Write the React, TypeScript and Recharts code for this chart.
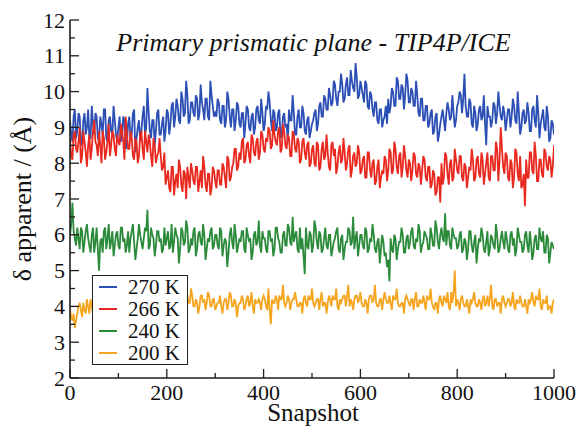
import * as React from "react";
import { LineChart, Line, XAxis, YAxis } from "recharts";

const snapshots = Array.from({ length: 201 }, (_, i) => i * 5);
const midSnapshots = Array.from({ length: 200 }, (_, i) => i * 5 + 2.5);

const k270 = [
  9.2, 8.6, 9.5, 8.9, 9.3, 8.5, 9.4, 9.0, 8.7, 9.6, 8.8, 9.3, 8.6, 9.1, 9.5, 8.7, 9.2, 8.9, 9.6, 8.8, 9.0,
  8.6, 9.3, 8.4, 9.1, 8.7, 9.4, 8.3, 9.0, 8.6, 9.3, 8.8, 10.1, 8.9, 9.2, 8.5, 9.4, 8.8, 9.1, 8.6, 9.5,
  8.8, 9.6, 9.0, 9.8, 9.2, 10.0, 9.3, 10.3, 9.1, 9.7, 9.4, 9.9, 9.2, 10.2, 9.5, 9.8, 9.3, 10.3, 9.6, 9.4,
  9.8, 9.2, 9.6, 9.0, 10.0, 9.3, 9.5, 8.9, 9.7, 9.1, 9.4, 8.7, 9.6, 9.0, 9.3, 8.8, 9.5, 9.2, 9.8, 8.9,
  9.6, 10.0, 9.2, 9.5, 8.9, 9.4, 8.7, 9.3, 9.0, 8.6, 9.2, 9.9, 8.8, 9.3, 9.0, 9.6, 8.9, 9.2, 8.7, 9.1,
  9.4, 8.9, 9.6, 9.3, 9.9, 9.5, 10.1, 9.6, 10.3, 9.8, 10.0, 10.5, 9.7, 10.2, 9.9, 10.6, 10.1, 10.8, 9.8, 10.3,
  9.9, 10.3, 9.6, 10.0, 9.5, 9.7, 9.2, 9.5, 9.0, 9.3, 9.1, 9.4, 10.1, 9.6, 10.4, 9.8, 10.2, 9.5, 10.5, 9.7,
  10.1, 9.6, 10.3, 9.4, 9.8, 9.2, 9.6, 9.0, 9.4, 8.8, 9.3, 8.6, 9.1, 9.5, 8.9, 9.7, 9.2, 9.9, 9.0, 9.6,
  10.0, 9.4, 10.5, 9.3, 9.8, 9.1, 9.6, 8.9, 9.5, 9.2, 9.9, 8.5, 9.3, 9.0, 9.7, 9.1, 10.0, 9.3, 9.6, 8.9,
  9.5, 9.0, 9.8, 9.2, 10.0, 8.8, 9.4, 9.1, 9.7, 8.9, 9.5, 9.2, 9.9, 8.7, 9.3, 9.0, 9.6, 8.6, 9.2, 8.8,
];
const k270mid = [
  8.8, 9.3, 8.7, 9.4, 8.6, 9.2, 8.8, 9.5, 8.7, 9.1, 9.4, 8.7, 9.3, 8.8, 9.5, 8.6, 9.3, 8.8, 9.2, 8.6,
  9.3, 8.7, 9.2, 8.5, 9.3, 8.8, 9.5, 8.7, 9.2, 8.9, 9.6, 9.0, 9.4, 8.7, 9.2, 8.9, 9.5, 8.8, 9.3, 8.9,
  9.4, 9.1, 9.7, 9.3, 9.6, 9.1, 9.8, 9.4, 9.9, 9.2, 9.7, 9.3, 9.8, 9.4, 9.7, 9.2, 9.8, 9.2, 9.9, 9.3,
  9.3, 9.7, 9.1, 9.6, 9.2, 9.8, 9.0, 9.5, 9.2, 9.6, 9.0, 9.4, 9.1, 9.5, 8.9, 9.4, 9.0, 9.6, 9.1, 9.4,
  9.1, 9.5, 9.7, 8.9, 9.4, 9.0, 9.5, 8.8, 9.4, 9.1, 9.5, 9.2, 9.4, 8.8, 9.5, 9.0, 9.4, 8.8, 9.3, 8.9,
  9.2, 9.5, 9.1, 9.7, 9.3, 9.8, 9.5, 9.9, 9.7, 10.2, 9.6, 10.0, 10.2, 9.8, 10.4, 9.9, 10.3, 10.0, 10.4, 9.9,
  10.1, 9.7, 10.2, 9.5, 9.9, 9.3, 9.7, 9.1, 9.5, 9.2, 9.6, 9.8, 9.6, 10.0, 9.6, 10.3, 9.8, 10.1, 9.9, 10.3,
  9.7, 10.0, 9.6, 9.9, 9.3, 9.8, 9.2, 9.6, 9.1, 9.5, 8.9, 9.4, 8.8, 9.3, 9.2, 9.4, 9.5, 9.3, 9.4, 9.2,
  9.7, 9.9, 9.8, 9.6, 9.3, 9.7, 9.0, 9.4, 9.1, 9.6, 9.3, 9.1, 9.6, 9.3, 9.2, 9.6, 9.4, 9.6, 9.2, 9.4,
  9.2, 9.5, 9.3, 9.6, 9.1, 9.4, 9.0, 9.5, 9.2, 9.4, 8.9, 9.6, 9.0, 9.4, 9.1, 9.5, 8.9, 9.3, 8.7, 9.1,
];

const k266 = [
  8.7, 8.1, 8.9, 8.3, 9.0, 8.2, 8.6, 7.9, 8.8, 8.4, 9.2, 8.5, 8.9, 8.0, 8.7, 8.3, 9.1, 8.5, 8.8, 8.2, 8.6,
  9.1, 8.6, 9.3, 8.4, 8.9, 8.2, 8.7, 8.0, 8.8, 8.4, 8.9, 8.3, 8.6, 7.9, 8.5, 8.2, 8.7, 7.8, 8.3, 7.6,
  7.3, 7.9, 7.1, 7.7, 8.1, 7.4, 7.8, 7.0, 7.6, 8.0, 7.5, 7.9, 7.2, 7.8, 8.2, 7.4, 7.7, 7.1, 7.9, 7.5,
  7.8, 7.4, 8.0, 7.6, 8.2, 7.5, 7.9, 8.4, 7.8, 8.3, 8.6, 8.0, 8.5, 8.2, 8.8, 8.3, 8.6, 8.1, 8.9, 8.4,
  8.7, 9.0, 8.4, 9.2, 8.6, 8.9, 8.3, 9.1, 8.5, 8.8, 8.2, 8.9, 8.4, 8.7, 8.0, 8.6, 8.3, 8.5, 7.9, 8.4,
  8.0, 8.6, 7.8, 8.4, 8.1, 8.8, 7.9, 8.5, 8.2, 7.7, 8.3, 8.0, 8.7, 7.8, 8.4, 7.6, 8.2, 7.9, 8.5, 7.7,
  8.1, 7.6, 8.3, 7.8, 8.0, 7.4, 7.9, 7.3, 7.8, 8.2, 7.5, 8.4, 7.7, 8.6, 7.9, 8.2, 7.6, 8.5, 7.8, 8.1,
  7.5, 8.3, 7.7, 8.0, 7.4, 8.2, 7.6, 7.9, 7.3, 7.8, 7.1, 7.6, 6.9, 7.4, 8.3, 7.7, 8.0, 7.5, 8.4, 7.8,
  8.2, 7.6, 8.0, 7.3, 7.9, 8.4, 7.5, 8.1, 7.7, 8.3, 7.4, 8.0, 7.6, 8.2, 7.8, 8.6, 7.5, 9.0, 7.9, 8.3,
  7.6, 8.1, 7.3, 8.4, 7.7, 8.2, 7.4, 6.8, 7.6, 8.3, 7.8, 8.6, 7.5, 8.1, 7.7, 8.4, 7.9, 8.2, 7.6, 8.5,
];
const k266mid = [
  8.2, 8.8, 8.4, 8.6, 8.0, 8.9, 8.3, 8.5, 8.1, 8.9, 8.6, 8.2, 8.5, 8.9, 8.1, 8.6, 8.2, 8.9, 8.4, 8.8,
  8.5, 8.9, 8.1, 8.8, 8.4, 8.7, 8.1, 8.6, 8.2, 8.9, 8.1, 8.6, 8.8, 8.2, 8.7, 8.0, 8.3, 8.2, 7.9, 7.4,
  7.8, 7.2, 7.9, 7.5, 7.3, 7.9, 7.2, 7.7, 7.9, 7.3, 7.8, 7.4, 7.9, 7.5, 7.3, 7.9, 7.2, 7.7, 7.3, 7.8,
  7.3, 7.8, 7.4, 7.9, 7.3, 8.1, 7.6, 8.0, 8.4, 7.9, 8.1, 8.7, 8.1, 8.6, 8.0, 8.7, 8.2, 8.7, 8.3, 8.8,
  8.3, 8.6, 8.9, 8.5, 8.8, 8.5, 9.0, 8.4, 8.9, 8.4, 8.7, 8.2, 8.8, 8.3, 8.6, 8.1, 8.7, 8.1, 8.6, 8.0,
  8.5, 7.9, 8.5, 7.9, 8.6, 8.2, 8.3, 7.8, 8.6, 8.4, 7.9, 8.5, 8.1, 8.3, 8.0, 8.5, 7.8, 8.3, 8.0, 8.3,
  7.8, 8.2, 7.6, 8.3, 7.6, 8.1, 7.5, 8.1, 7.6, 7.7, 8.1, 7.8, 8.3, 7.8, 8.4, 7.7, 8.3, 7.9, 8.2, 7.6,
  8.0, 7.8, 8.2, 7.6, 7.9, 7.8, 8.1, 7.5, 7.9, 7.4, 7.7, 7.2, 7.6, 8.0, 7.6, 8.2, 7.4, 8.1, 7.6, 8.1,
  7.7, 8.2, 7.5, 7.9, 7.6, 7.8, 8.1, 7.6, 8.2, 7.6, 8.1, 7.7, 8.3, 7.5, 8.2, 7.8, 8.4, 8.1, 8.4, 7.7,
  8.2, 7.5, 8.0, 7.6, 8.3, 7.5, 7.3, 7.7, 8.1, 7.6, 8.3, 7.7, 8.2, 7.5, 8.1, 7.6, 8.3, 7.8, 8.1, 7.9,
];

const k240 = [
  6.0, 6.9, 5.9, 6.2, 5.6, 6.1, 5.8, 6.3, 5.7, 6.0, 5.5, 6.2, 5.0, 5.9, 6.1, 5.6, 6.3, 5.8, 5.4, 6.0, 5.7,
  6.2, 5.8, 5.5, 6.1, 5.9, 6.3, 5.3, 5.9, 6.0, 5.6, 6.2, 6.7, 5.7, 6.0, 5.4, 6.1, 5.8, 5.5, 6.2, 5.9,
  5.6, 6.3, 5.8, 6.0, 5.2, 6.2, 5.7, 6.4, 5.5, 5.9, 6.1, 5.4, 6.0, 5.8, 6.3, 5.3, 5.9, 6.1, 5.6, 6.0,
  5.7, 6.2, 5.4, 5.9, 5.1, 6.0, 5.8, 6.3, 5.5, 5.9, 6.1, 5.6, 6.2, 5.8, 5.3, 6.0, 5.7, 6.4, 5.5, 5.9,
  5.6, 6.1, 5.8, 5.4, 6.2, 5.9, 5.5, 6.0, 5.7, 6.3, 5.8, 6.5, 6.0, 5.6, 6.2, 5.9, 4.9, 5.7, 6.1, 5.5,
  6.4, 5.8, 6.1, 5.5, 5.9, 5.7, 6.0, 5.4, 5.8, 6.1, 5.6, 5.9, 5.3, 5.8, 6.2, 5.7, 6.5, 5.9, 5.4, 6.0,
  5.7, 6.2, 5.5, 5.9, 6.3, 5.6, 5.8, 5.2, 6.0, 5.4, 5.1, 4.7, 5.6, 6.0, 5.3, 5.8, 6.2, 5.5, 5.9, 5.6,
  6.1, 5.7, 5.9, 6.3, 5.5, 5.8, 6.0, 5.6, 6.2, 5.7, 6.4, 5.8, 6.0, 5.9, 6.6, 6.1, 5.7, 6.2, 5.9, 5.6,
  6.0, 5.5, 5.9, 5.3, 6.1, 5.7, 5.8, 5.2, 5.9, 6.2, 5.6, 5.8, 5.4, 6.0, 5.7, 6.3, 5.5, 5.9, 5.8, 6.1,
  5.6, 6.0, 5.7, 5.4, 6.2, 5.8, 5.5, 6.0, 5.7, 6.1, 5.3, 5.9, 5.6, 6.2, 5.8, 5.5, 6.0, 5.2, 5.8, 5.6,
];
const k240mid = [
  6.3, 6.1, 5.7, 5.9, 6.2, 5.5, 6.1, 5.9, 5.5, 6.2, 5.8, 5.6, 5.8, 5.5, 6.2, 5.9, 5.6, 6.1, 5.7, 6.1,
  5.6, 6.2, 5.9, 5.7, 5.5, 6.1, 5.8, 5.6, 6.3, 5.8, 5.9, 6.1, 5.6, 6.2, 5.9, 5.7, 6.1, 5.9, 5.6, 5.7,
  6.1, 5.7, 5.5, 6.2, 5.9, 5.6, 6.1, 5.8, 6.2, 5.6, 5.7, 6.2, 5.6, 6.1, 5.7, 6.0, 5.6, 5.8, 6.2, 5.7,
  6.0, 5.6, 6.1, 5.7, 5.8, 5.5, 6.2, 5.6, 6.0, 5.7, 5.8, 6.1, 5.5, 6.0, 5.9, 5.5, 6.1, 5.8, 5.7, 6.1,
  5.9, 5.5, 6.1, 5.9, 5.6, 6.2, 5.8, 5.5, 6.1, 5.7, 6.2, 5.7, 5.8, 6.1, 5.5, 5.6, 5.4, 6.2, 5.6, 6.0,
  5.7, 6.2, 5.6, 6.0, 5.6, 6.2, 5.6, 6.0, 5.6, 5.9, 6.2, 5.5, 6.0, 5.6, 5.8, 6.1, 5.8, 5.6, 6.1, 5.7,
  6.0, 5.6, 6.1, 5.6, 5.8, 6.0, 5.5, 5.9, 5.6, 5.8, 5.5, 5.3, 5.9, 5.5, 5.9, 5.6, 5.8, 6.0, 5.5, 6.0,
  5.8, 6.2, 5.6, 5.8, 6.1, 5.7, 6.1, 5.9, 5.6, 6.0, 5.7, 6.2, 5.6, 6.2, 5.8, 5.7, 6.1, 5.6, 6.0, 5.9,
  5.7, 6.1, 5.6, 5.8, 5.6, 6.1, 5.5, 6.0, 5.6, 5.8, 6.0, 5.5, 6.1, 5.6, 5.9, 5.6, 6.0, 5.6, 6.1, 5.6,
  5.9, 5.5, 6.1, 5.9, 5.6, 6.0, 5.8, 5.6, 6.1, 5.5, 5.8, 5.5, 6.0, 5.6, 5.9, 6.1, 5.5, 5.9, 5.5, 5.7,
];

const k200 = [
  3.9, 3.6, 3.4, 3.8, 4.1, 3.7, 3.9, 4.2, 3.8, 4.0, 4.3, 3.9, 4.1, 3.7, 4.2, 4.0, 4.4, 3.9, 4.1, 3.8, 4.2,
  4.0, 4.3, 3.8, 4.1, 4.4, 3.9, 4.2, 4.0, 3.7, 4.3, 4.1, 3.9, 4.4, 4.0, 4.2, 3.8, 4.1, 4.3, 3.9, 4.2,
  4.0, 4.4, 3.9, 4.2, 4.6, 4.0, 4.3, 3.8, 4.1, 4.5, 4.0, 4.2, 3.8, 4.3, 4.1, 3.9, 4.4, 4.0, 4.2, 3.9,
  4.1, 4.3, 3.8, 4.2, 3.9, 4.4, 4.0, 4.2, 3.7, 4.1, 4.3, 3.9, 4.2, 4.0, 4.4, 3.8, 4.1, 4.2, 3.9, 4.3,
  4.0, 4.5, 3.5, 4.1, 4.3, 3.9, 4.2, 4.6, 4.0, 4.3, 3.9, 4.2, 4.4, 4.0, 4.1, 3.8, 4.3, 4.0, 4.2, 4.5,
  4.0, 4.2, 3.9, 4.4, 4.1, 3.8, 4.3, 4.0, 4.2, 4.5, 3.9, 4.1, 4.3, 4.0, 4.6, 4.2, 3.9, 4.3, 4.1, 4.4,
  4.0, 4.2, 3.8, 4.3, 4.1, 4.6, 4.0, 4.2, 3.9, 4.4, 4.1, 4.3, 3.9, 4.2, 4.5, 4.0, 4.1, 3.8, 4.3, 4.1,
  4.2, 3.9, 4.4, 4.0, 4.1, 4.3, 3.9, 4.2, 4.5, 4.0, 4.1, 3.8, 4.3, 4.0, 4.2, 4.4, 3.9, 4.1, 5.0, 4.2,
  3.9, 4.3, 4.0, 4.2, 3.8, 4.1, 4.4, 4.0, 4.2, 3.9, 4.3, 4.1, 4.0, 4.6, 3.9, 4.2, 4.1, 3.8, 4.3, 4.0,
  4.2, 4.0, 4.4, 3.9, 4.1, 4.3, 4.0, 4.2, 3.8, 4.1, 4.4, 4.0, 4.2, 4.5, 3.9, 4.1, 4.3, 4.0, 3.8, 4.2,
];
const k200mid = [
  3.7, 3.8, 3.6, 4.0, 3.9, 4.1, 3.8, 4.0, 4.2, 3.8, 4.1, 4.0, 3.9, 4.1, 3.9, 4.2, 4.0, 4.3, 3.9, 4.1,
  4.2, 3.9, 4.2, 3.9, 4.1, 4.2, 3.9, 4.2, 4.1, 4.0, 3.9, 4.2, 4.1, 4.3, 4.0, 4.2, 4.0, 4.1, 4.2, 4.0,
  4.3, 4.1, 4.2, 4.0, 4.3, 4.2, 4.0, 4.2, 4.3, 4.1, 4.3, 4.0, 4.1, 4.0, 4.3, 4.2, 4.1, 4.3, 4.0, 4.2,
  4.0, 4.1, 4.0, 4.1, 4.2, 4.1, 4.3, 4.0, 4.1, 4.0, 4.1, 4.2, 4.0, 4.3, 4.1, 4.0, 4.2, 4.1, 4.1, 4.2,
  4.2, 3.9, 3.9, 4.2, 4.1, 4.2, 4.3, 4.2, 4.1, 4.1, 4.2, 4.1, 4.2, 4.2, 4.0, 4.1, 4.2, 4.1, 4.3, 4.2,
  4.1, 4.1, 4.2, 4.2, 4.0, 4.1, 4.1, 4.2, 4.3, 4.2, 4.0, 4.2, 4.2, 4.3, 4.3, 4.0, 4.1, 4.2, 4.3, 4.2,
  4.1, 4.0, 4.1, 4.2, 4.3, 4.2, 4.1, 4.0, 4.2, 4.2, 4.2, 4.1, 4.1, 4.3, 4.2, 4.1, 4.0, 4.1, 4.2, 4.2,
  4.0, 4.2, 4.2, 4.0, 4.2, 4.1, 4.1, 4.3, 4.2, 4.1, 3.9, 4.1, 4.2, 4.1, 4.3, 4.1, 4.0, 4.4, 4.4, 4.0,
  4.1, 4.2, 4.1, 4.0, 4.0, 4.2, 4.2, 4.1, 4.0, 4.1, 4.2, 4.0, 4.3, 4.2, 4.0, 4.2, 4.0, 4.1, 4.2, 4.1,
  4.1, 4.2, 4.1, 4.0, 4.2, 4.1, 4.1, 4.0, 4.0, 4.2, 4.2, 4.1, 4.3, 4.2, 4.0, 4.2, 4.1, 3.9, 4.0, 4.1,
];

const xTicks = [0, 100, 200, 300, 400, 500, 600, 700, 800, 900, 1000];
const yTicks = [2, 2.5, 3, 3.5, 4, 4.5, 5, 5.5, 6, 6.5, 7, 7.5, 8, 8.5, 9, 9.5, 10, 10.5, 11, 11.5, 12];

const series = [
  { key: "k270", name: "270 K", color: "#2c4fb5" },
  { key: "k266", name: "266 K", color: "#e8291f" },
  { key: "k240", name: "240 K", color: "#2b8b3b" },
  { key: "k200", name: "200 K", color: "#f6a520" },
];

const data: any[] = [];
snapshots.forEach((s, i) => {
  data.push({ s, k270: k270[i], k266: k266[i], k240: k240[i], k200: k200[i] });
  if (i < midSnapshots.length) {
    data.push({
      s: midSnapshots[i],
      k270: k270mid[i],
      k266: k266mid[i],
      k240: k240mid[i],
      k200: k200mid[i],
    });
  }
});

const serif = '"Liberation Serif", "DejaVu Serif", "Noto Serif", serif';
const ink = "#1e1e1e";

function BottomTick({ x, y, payload }: any) {
  const major = payload.value % 200 === 0;
  return (
    <g>
      <line x1={x} x2={x} y1={y} y2={y - (major ? 9 : 5)} stroke={ink} strokeWidth={1.3} />
      {major && (
        <text x={x} y={y + 22} textAnchor="middle" fontFamily={serif} fontSize={22} fill="#111">
          {payload.value}
        </text>
      )}
    </g>
  );
}

function LeftTick({ x, y, payload }: any) {
  const major = Number.isInteger(payload.value);
  return (
    <g>
      <line x1={x} x2={x + (major ? 9 : 5)} y1={y} y2={y} stroke={ink} strokeWidth={1.3} />
      {major && (
        <text x={x - 5} y={y + 7.5} textAnchor="end" fontFamily={serif} fontSize={22} fill="#111">
          {payload.value}
        </text>
      )}
    </g>
  );
}

function RightTick({ x, y, payload }: any) {
  const major = Number.isInteger(payload.value);
  return <line x1={x} x2={x - (major ? 9 : 5)} y1={y} y2={y} stroke={ink} strokeWidth={1.3} />;
}

export default function App() {
  return (
    <div style={{ position: "absolute", left: 0, top: 0, width: 581, height: 427, background: "#fff" }}>
      <LineChart
        width={581}
        height={427}
        data={data}
        margin={{ top: 20, right: 27, bottom: 0, left: 0 }}
      >
        <XAxis
          dataKey="s"
          type="number"
          domain={[0, 1000]}
          ticks={xTicks}
          interval={0}
          height={49}
          tickSize={0}
          tickMargin={0}
          tickLine={false}
          tick={<BottomTick />}
          axisLine={{ stroke: ink, strokeWidth: 1.6 }}
          allowDataOverflow
        />
        <XAxis
          xAxisId="top"
          orientation="top"
          dataKey="s"
          type="number"
          domain={[0, 1000]}
          height={0}
          tick={false}
          tickLine={false}
          axisLine={{ stroke: ink, strokeWidth: 1.6 }}
          allowDataOverflow
        />
        <YAxis
          type="number"
          domain={[2, 12]}
          ticks={yTicks}
          interval={0}
          width={70}
          tickSize={0}
          tickMargin={0}
          tickLine={false}
          tick={<LeftTick />}
          axisLine={{ stroke: ink, strokeWidth: 1.6 }}
          allowDataOverflow
        />
        <YAxis
          yAxisId="right"
          orientation="right"
          type="number"
          domain={[2, 12]}
          ticks={yTicks}
          interval={0}
          width={0}
          tickSize={0}
          tickMargin={0}
          tickLine={false}
          tick={<RightTick />}
          axisLine={{ stroke: ink, strokeWidth: 1.6 }}
          allowDataOverflow
        />
        {series.map((s) => (
          <Line
            key={s.key}
            type="linear"
            dataKey={s.key}
            name={s.name}
            stroke={s.color}
            strokeWidth={1.8}
            dot={false}
            activeDot={false}
            isAnimationActive={false}
          />
        ))}
      </LineChart>

      <div
        style={{
          position: "absolute", left: 0, width: 627, top: 28, textAlign: "center",
          fontFamily: serif, fontStyle: "italic", fontSize: 26, lineHeight: "30px", color: "#111",
        }}
      >
        Primary prismatic plane - TIP4P/ICE
      </div>
      <div
        style={{
          position: "absolute", left: 0, width: 626, top: 400, textAlign: "center",
          fontFamily: serif, fontSize: 25, lineHeight: "25px", color: "#111",
        }}
      >
        Snapshot
      </div>
      <div
        style={{
          position: "absolute", left: 23 - 150, top: 199 - 15, width: 300, textAlign: "center",
          fontFamily: serif, fontSize: 26, lineHeight: "30px", color: "#111",
          transform: "rotate(-90deg)", transformOrigin: "50% 50%",
        }}
      >
        δ apparent / (Å)
      </div>

      <div
        style={{
          position: "absolute", left: 92, top: 275, width: 94, height: 88,
          border: "1.5px solid #222", background: "#fff",
        }}
      >
        {series.map((s) => (
          <div key={s.key} style={{ display: "flex", alignItems: "center", height: 22, paddingLeft: 6 }}>
            <span style={{ display: "inline-block", width: 18, height: 2, background: s.color }} />
            <span
              style={{
                marginLeft: 11, fontFamily: serif, fontSize: 21, lineHeight: "20px", color: "#111",
              }}
            >
              {s.name}
            </span>
          </div>
        ))}
      </div>
    </div>
  );
}
